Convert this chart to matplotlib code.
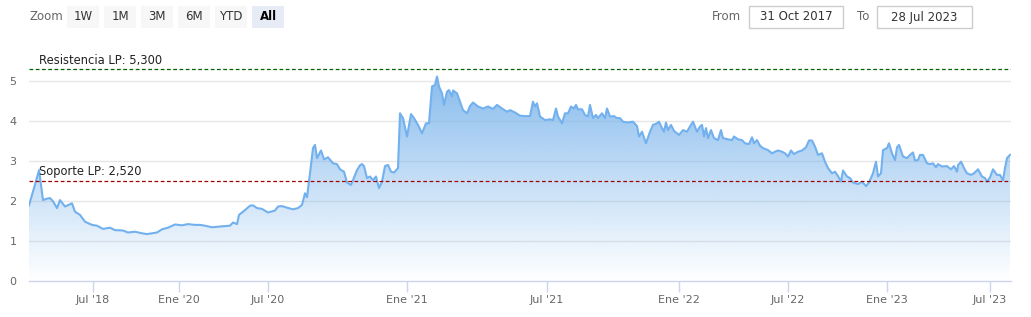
import numpy as np
import matplotlib
matplotlib.use("Agg")
from matplotlib import pyplot as plt
from matplotlib.patches import Rectangle
from matplotlib.colors import LinearSegmentedColormap

# DONNEES (axe ordinal : numero de seance)
sesion = [0, 5, 10, 14, 17, 21, 24, 28, 31, 36, 43, 46, 51, 56, 63, 68, 74, 81, 86, 94,
          99, 106, 113, 118, 123, 128, 133, 139, 146, 153, 159, 166, 171, 176, 183, 191, 201, 204, 208, 210,
          216, 221, 224, 228, 233, 239, 246, 249, 253, 258, 264, 269, 273, 276, 278, 281, 284, 286, 288, 292,
          295, 299, 304, 308, 311, 315, 318, 322, 324, 328, 331, 333, 335, 338, 341, 344, 347, 350, 353, 356,
          359, 362, 365, 369, 371, 374, 378, 382, 385, 389, 393, 397, 400, 403, 406, 408, 410, 413, 415, 418,
          420, 423, 424, 428, 431, 434, 438, 441, 444, 449, 454, 459, 464, 468, 473, 478, 481, 486, 491, 496,
          501, 504, 506, 508, 511, 516, 521, 524, 527, 529, 533, 536, 539, 542, 545, 547, 549, 553, 556, 559,
          561, 564, 567, 569, 573, 576, 578, 581, 585, 588, 591, 594, 598, 604, 608, 610, 613, 617, 621, 624,
          628, 630, 633, 635, 637, 639, 642, 645, 650, 654, 658, 661, 664, 668, 671, 673, 675, 677, 679, 682,
          685, 689, 692, 694, 699, 703, 705, 709, 713, 716, 720, 723, 725, 728, 731, 734, 739, 743, 746, 749,
          753, 756, 759, 762, 765, 769, 773, 777, 780, 783, 786, 789, 793, 796, 799, 803, 806, 809, 812, 814,
          818, 821, 824, 829, 833, 837, 840, 844, 847, 849, 852, 854, 858, 860, 863, 866, 868, 870, 874, 878,
          881, 884, 886, 889, 891, 894, 898, 901, 904, 907, 909, 913, 918, 922, 925, 928, 929, 932, 935, 938,
          942, 945, 949, 953, 956, 958, 961, 964, 968, 971, 974, 976, 978, 981]
cierre = [1.90, 2.33, 2.78, 2.03, 2.06, 2.08, 2.00, 1.83, 2.03, 1.87, 1.95, 1.74, 1.66, 1.49, 1.41, 1.39, 1.31, 1.34, 1.28, 1.27,
          1.22, 1.24, 1.20, 1.18, 1.20, 1.22, 1.30, 1.34, 1.42, 1.40, 1.43, 1.41, 1.41, 1.39, 1.35, 1.37, 1.39, 1.47, 1.43, 1.66,
          1.78, 1.89, 1.90, 1.83, 1.81, 1.72, 1.77, 1.87, 1.88, 1.84, 1.80, 1.83, 1.91, 2.20, 2.10, 2.70, 3.33, 3.41, 3.08, 3.27,
          3.05, 3.10, 2.95, 2.93, 2.80, 2.74, 2.47, 2.41, 2.53, 2.78, 2.90, 2.93, 2.88, 2.58, 2.62, 2.53, 2.62, 2.33, 2.49, 2.88,
          2.91, 2.74, 2.72, 2.83, 4.20, 4.08, 3.62, 4.18, 4.08, 3.91, 3.70, 3.95, 3.95, 4.87, 4.91, 5.12, 4.87, 4.70, 4.41, 4.74,
          4.78, 4.62, 4.77, 4.70, 4.49, 4.28, 4.20, 4.38, 4.47, 4.37, 4.32, 4.37, 4.31, 4.41, 4.32, 4.24, 4.28, 4.22, 4.14, 4.13,
          4.13, 4.49, 4.37, 4.45, 4.12, 4.03, 4.05, 4.03, 4.32, 4.12, 3.95, 4.20, 4.20, 4.37, 4.32, 4.41, 4.30, 4.30, 4.16, 4.12,
          4.41, 4.08, 4.16, 4.08, 4.20, 4.08, 4.32, 4.12, 4.13, 4.08, 4.08, 3.99, 3.97, 3.99, 3.88, 3.62, 3.74, 3.45, 3.74, 3.91,
          3.95, 3.99, 3.83, 3.74, 3.97, 3.78, 3.91, 3.76, 3.66, 3.78, 3.74, 3.87, 3.99, 3.74, 3.87, 3.91, 3.62, 3.83, 3.58, 3.78,
          3.58, 3.53, 3.78, 3.58, 3.55, 3.53, 3.62, 3.55, 3.53, 3.45, 3.43, 3.60, 3.45, 3.53, 3.39, 3.33, 3.28, 3.20, 3.24, 3.27,
          3.24, 3.20, 3.12, 3.27, 3.18, 3.24, 3.27, 3.35, 3.52, 3.52, 3.37, 3.16, 3.20, 2.99, 2.83, 2.70, 2.74, 2.63, 2.49, 2.77,
          2.62, 2.58, 2.47, 2.43, 2.49, 2.38, 2.47, 2.70, 2.99, 2.62, 2.70, 3.28, 3.33, 3.45, 3.20, 3.03, 3.35, 3.41, 3.12, 3.08,
          3.16, 3.22, 3.02, 3.03, 3.16, 3.16, 2.95, 2.93, 2.95, 2.85, 2.93, 2.87, 2.88, 2.80, 2.88, 2.74, 2.90, 2.99, 2.83, 2.70,
          2.66, 2.70, 2.80, 2.62, 2.58, 2.49, 2.60, 2.80, 2.66, 2.66, 2.52, 2.83, 3.08, 3.16]

ticks_pos = [64, 150, 239, 378, 518, 650, 759, 858, 961]
ticks_lab = ["Jul '18", "Ene '20", "Jul '20", "Ene '21", "Jul '21", "Ene '22", "Jul '22", "Ene '23", "Jul '23"]

resistencia = 5.3
soporte = 2.52

botones = ["1W", "1M", "3M", "6M", "YTD", "All"]
fecha_desde = "31 Oct 2017"
fecha_hasta = "28 Jul 2023"

# FIGURE
W, H = 1031, 317
fig = plt.figure(figsize=(W / 100, H / 100), dpi=100)
ax = fig.add_axes([29 / W, (H - 281.3) / H, 982 / W, 220 / H])

x = np.array(sesion)
y = np.array(cierre)

# remplissage en degrade
poly = ax.fill_between(x, 0, y, color="none", lw=0)
cmap = LinearSegmentedColormap.from_list(
    "deg", [(124 / 255, 181 / 255, 236 / 255, 0.0), (124 / 255, 181 / 255, 236 / 255, 0.9)])
grad = np.linspace(0, 1, 256).reshape(-1, 1)
img = ax.imshow(grad, cmap=cmap, aspect="auto", origin="lower",
                extent=[0, 982, 0, y.max()], zorder=1)
img.set_clip_path(poly.get_paths()[0], transform=ax.transData)
ax.plot(x, y, color="#72b1ee", lw=1.5, zorder=3, solid_joinstyle="round")

# lignes support / resistance
ax.axhline(resistencia, color="#006400", lw=0.9, ls=(0, (3, 2)), zorder=4)
ax.axhline(soporte, color="#a00000", lw=0.9, ls=(0, (3, 2)), zorder=4)
ax.text(10, resistencia + 0.05, "Resistencia LP: 5,300", fontsize=8.3, color="#222", va="bottom")
ax.text(10, soporte + 0.05, "Soporte LP: 2,520", fontsize=8.3, color="#222", va="bottom")

ax.set_xlim(0, 982)
ax.set_ylim(0, 5.5)
ax.set_yticks([0, 1, 2, 3, 4, 5])
for v in [1, 2, 3, 4, 5]:
    ax.axhline(v, color="#e6e6e6", lw=1, zorder=0)
ax.set_xticks(ticks_pos)
ax.set_xticklabels(ticks_lab)
ax.tick_params(axis="x", length=8, width=1, color="#ccd6eb", labelsize=8, labelcolor="#666666", pad=2)
ax.tick_params(axis="y", length=0, labelsize=8, labelcolor="#666666", pad=14)
for lab in ax.get_yticklabels():
    lab.set_horizontalalignment("left")
for s in ["top", "right", "left"]:
    ax.spines[s].set_visible(False)
ax.spines["bottom"].set_color("#ccd6eb")
ax.spines["bottom"].set_linewidth(1)

# BARRE DE CONTROLE (en pixels)
top = fig.add_axes([0, 0, 1, 1], zorder=-1)
top.set_xlim(0, W)
top.set_ylim(H, 0)
top.axis("off")
top.text(30, 17, "Zoom", fontsize=8.5, color="#666666", va="center")
bx = 67
for i, b in enumerate(botones):
    sel = b == "All"
    top.add_patch(Rectangle((bx + i * 37, 6), 32, 22, facecolor="#e6ebf5" if sel else "#f7f7f7", edgecolor="none"))
    top.text(bx + i * 37 + 16, 17, b, fontsize=8.5, ha="center", va="center",
             color="#000000" if sel else "#333333", fontweight="bold" if sel else "normal")
top.text(712, 17, "From", fontsize=8.5, color="#666666", va="center")
top.add_patch(Rectangle((749, 6), 94, 22, facecolor="white", edgecolor="#cccccc", lw=1))
top.text(796, 17, fecha_desde, fontsize=8.5, color="#333333", ha="center", va="center")
top.text(857, 17, "To", fontsize=8.5, color="#666666", va="center")
top.add_patch(Rectangle((877, 6), 95, 22, facecolor="white", edgecolor="#cccccc", lw=1))
top.text(924.5, 17, fecha_hasta, fontsize=8.5, color="#333333", ha="center", va="center")

fig.savefig("out.png", dpi=100)
